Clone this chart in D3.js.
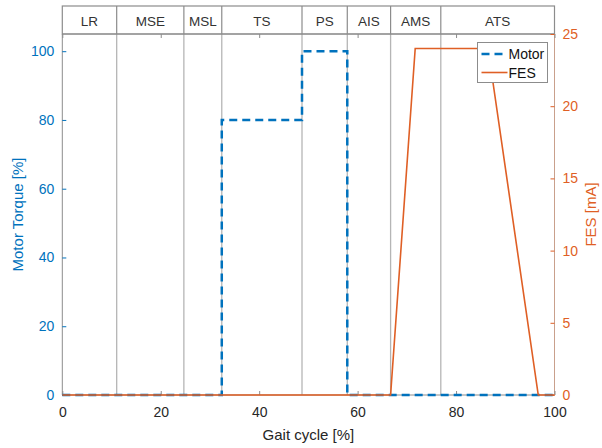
<!DOCTYPE html>
<html>
<head>
<meta charset="utf-8">
<script src="https://cdn.jsdelivr.net/npm/d3@7"></script>
<style>
  body { margin: 0; background: #fff; }
  text { font-family: "Liberation Sans", Arial, sans-serif; }
</style>
</head>
<body>
<div id="chart"></div>
<script>
/** data **/
var phaseNames = ["LR", "MSE", "MSL", "TS", "PS", "AIS", "AMS", "ATS"];
var phaseEdges = [0, 11.05, 24.7, 32.4, 48.7, 57.9, 66.7, 76.9, 100];

var motorX = [0, 32.4, 32.4, 48.7, 48.7, 57.9, 57.9, 100];
var motorY = [0, 0, 80, 80, 100, 100, 0, 0];

var fesX = [0, 66.7, 71.7, 86.5, 96.7, 100];
var fesY = [0, 0, 24, 24, 0, 0];

var xTicks = [0, 20, 40, 60, 80, 100];
var leftTicks = [0, 20, 40, 60, 80, 100];
var rightTicks = [0, 5, 10, 15, 20, 25];

/** layout **/
var svgW = 602, svgH = 448;
var plotL = 62.3, plotR = 554.5, plotT = 34, plotB = 395, headT = 6;
var blue = "#0072BD", orange = "#DF5F25", grid = "#b5b5b5", frame = "#8c8c8c", ink = "#262626";

var x = d3.scaleLinear().domain([0, 100]).range([plotL, plotR]);
var yL = d3.scaleLinear().domain([0, 105]).range([plotB, plotT]);
var yR = d3.scaleLinear().domain([0, 25]).range([plotB, plotT]);

var svg = d3.select("#chart").append("svg")
    .attr("width", svgW)
    .attr("height", svgH);

// phase separators in the plot
svg.selectAll(".sep")
    .data(phaseEdges.slice(1, -1))
    .enter().append("line")
    .attr("x1", function(d) { return x(d); })
    .attr("x2", function(d) { return x(d); })
    .attr("y1", plotT)
    .attr("y2", plotB)
    .style("stroke", grid)
    .style("stroke-width", 1.3);

// header band with phase names
svg.append("rect")
    .attr("x", plotL).attr("y", headT)
    .attr("width", plotR - plotL).attr("height", plotT - headT)
    .style("fill", "white").style("stroke", frame).style("stroke-width", 1.2);

svg.selectAll(".hsep")
    .data(phaseEdges.slice(1, -1))
    .enter().append("line")
    .attr("x1", function(d) { return x(d); })
    .attr("x2", function(d) { return x(d); })
    .attr("y1", headT)
    .attr("y2", plotT)
    .style("stroke", frame)
    .style("stroke-width", 1.2);

svg.selectAll(".hlabel")
    .data(phaseNames)
    .enter().append("text")
    .attr("x", function(d, i) { return (x(phaseEdges[i]) + x(phaseEdges[i + 1])) / 2; })
    .attr("y", 25.5)
    .attr("text-anchor", "middle")
    .style("font-size", "13.5px")
    .style("fill", "#333")
    .text(function(d) { return d; });

// axes frame
svg.append("line").attr("x1", plotL).attr("x2", plotR).attr("y1", plotB).attr("y2", plotB)
    .style("stroke", frame).style("stroke-width", 1);
svg.append("line").attr("x1", plotL).attr("x2", plotR).attr("y1", plotT).attr("y2", plotT)
    .style("stroke", frame).style("stroke-width", 1);
svg.append("line").attr("x1", plotL).attr("x2", plotL).attr("y1", plotT).attr("y2", plotB)
    .style("stroke", frame).style("stroke-width", 1);
svg.append("line").attr("x1", plotR).attr("x2", plotR).attr("y1", plotT).attr("y2", plotB)
    .style("stroke", "#c9a08c").style("stroke-width", 1);

// x axis: ticks inward, on bottom and top
var xAxis = svg.append("g")
    .attr("transform", "translate(0," + plotB + ")")
    .call(d3.axisBottom(x).tickValues(xTicks).tickSize(-4).tickPadding(12).tickFormat(d3.format("d")));
xAxis.select(".domain").remove();
xAxis.selectAll("line").style("stroke", frame);
xAxis.selectAll("text").style("font-size", "14px").style("fill", ink);

var xTop = svg.append("g")
    .attr("transform", "translate(0," + plotT + ")")
    .call(d3.axisTop(x).tickValues(xTicks).tickSize(-4).tickFormat(""));
xTop.select(".domain").remove();
xTop.selectAll("line").style("stroke", frame);

// left axis
var yAxisL = svg.append("g")
    .attr("transform", "translate(" + plotL + ",0)")
    .call(d3.axisLeft(yL).tickValues(leftTicks).tickSize(-4).tickPadding(8));
yAxisL.select(".domain").remove();
yAxisL.selectAll("line").style("stroke", blue);
yAxisL.selectAll("text").style("font-size", "14px").style("fill", blue);

// right axis
var yAxisR = svg.append("g")
    .attr("transform", "translate(" + plotR + ",0)")
    .call(d3.axisRight(yR).tickValues(rightTicks).tickSize(-4).tickPadding(8));
yAxisR.select(".domain").remove();
yAxisR.selectAll("line").style("stroke", orange);
yAxisR.selectAll("text").style("font-size", "14px").style("fill", orange);

// series
var motorLine = d3.line()
    .x(function(d) { return x(d[0]); })
    .y(function(d) { return yL(d[1]); });
var fesLine = d3.line()
    .x(function(d) { return x(d[0]); })
    .y(function(d) { return yR(d[1]); });

svg.append("path")
    .datum(motorX.map(function(v, i) { return [v, motorY[i]]; }))
    .attr("d", motorLine)
    .style("fill", "none")
    .style("stroke", blue)
    .style("stroke-width", 2.5)
    .style("stroke-dasharray", "8,5");

svg.append("path")
    .datum(fesX.map(function(v, i) { return [v, fesY[i]]; }))
    .attr("d", fesLine)
    .style("fill", "none")
    .style("stroke", orange)
    .style("stroke-width", 1.6);

// labels
svg.append("text")
    .attr("x", (plotL + plotR) / 2)
    .attr("y", 440)
    .attr("text-anchor", "middle")
    .style("font-size", "15px")
    .style("fill", ink)
    .text("Gait cycle [%]");

svg.append("text")
    .attr("transform", "translate(23," + (plotT + plotB) / 2 + ") rotate(-90)")
    .attr("text-anchor", "middle")
    .style("font-size", "15px")
    .style("fill", blue)
    .text("Motor Torque [%]");

svg.append("text")
    .attr("transform", "translate(596," + (plotT + plotB) / 2 + ") rotate(-90)")
    .attr("text-anchor", "middle")
    .style("font-size", "15px")
    .style("fill", orange)
    .text("FES [mA]");

// legend
var lg = svg.append("g").attr("transform", "translate(477.5,42.5)");
lg.append("rect")
    .attr("width", 70).attr("height", 40)
    .style("fill", "white").style("stroke", frame).style("stroke-width", 1);
var legendItems = [
    {name: "Motor", color: blue, dash: "8,5", w: 2.5},
    {name: "FES", color: orange, dash: null, w: 1.6}
];
legendItems.forEach(function(d, i) {
    var cy = 11.5 + i * 18.5;
    lg.append("line")
        .attr("x1", 4).attr("x2", 30).attr("y1", cy).attr("y2", cy)
        .style("stroke", d.color).style("stroke-width", d.w)
        .style("stroke-dasharray", d.dash);
    lg.append("text")
        .attr("x", 31).attr("y", cy + 5)
        .style("font-size", "14px")
        .style("fill", "#111")
        .text(d.name);
});
</script>
</body>
</html>
